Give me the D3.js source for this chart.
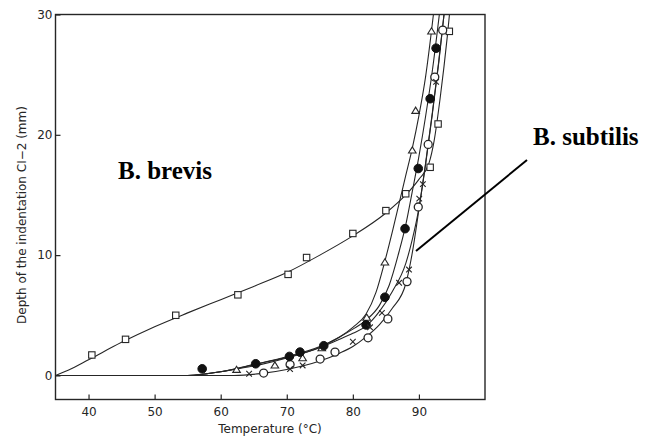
<!DOCTYPE html>
<html><head><meta charset="utf-8">
<script src="https://cdn.jsdelivr.net/npm/d3@7"></script>
<style>html,body{margin:0;padding:0;background:#fff;}svg{display:block;}</style>
</head><body>
<svg id="chart" width="651" height="437"></svg>
<script>
// ---- data ----
const xTicks = [40, 50, 60, 70, 80, 90];
const yTicks = [0, 10, 20, 30];

// markers [temperature, depth]
const squares = [[40.5,1.7],[45.6,3.0],[53.2,5.0],[62.6,6.7],[70.2,8.4],[73.0,9.8],[80.0,11.8],[85.0,13.7],[88.0,15.1],[91.7,17.3],[92.9,20.9],[94.6,28.6]];
const filled = [[57.2,0.55],[65.3,0.97],[70.4,1.58],[72.0,1.94],[75.6,2.47],[82.0,4.2],[84.85,6.5],[87.9,12.2],[89.9,17.2],[91.7,23.0],[92.6,27.2]];
const triangles = [[62.4,0.47],[68.2,0.83],[72.4,1.44],[75.3,2.27],[82.1,4.8],[84.85,9.4],[89.0,18.7],[89.5,22.0],[91.9,28.6]];
const openCircles = [[66.5,0.2],[70.5,0.9],[75.05,1.36],[77.3,1.94],[82.3,3.13],[85.3,4.7],[88.2,7.8],[89.9,14.0],[91.4,19.2],[92.4,24.8],[93.6,28.7]];
const crosses = [[64.3,0.14],[70.5,0.53],[72.4,0.83],[80.0,2.8],[82.6,4.0],[84.4,5.2],[87.0,7.7],[88.5,8.8],[90.05,14.7],[90.6,15.9],[92.6,24.4]];

// fitted curves [temperature, depth]
const brevisCurve = [[35,0],[37,0.45],[40,1.3],[45,2.75],[50,4.05],[55,5.2],[60,6.3],[65,7.4],[70,8.55],[75,10.0],[80,11.6],[85,13.5],[88,15.0],[90,16.3],[91.5,17.6],[92.3,19.5],[93.2,23],[94.3,28.2],[94.8,31]];
const triangleCurve = [[35,0],[55,0],[58,0.15],[62,0.5],[66,0.9],[70,1.45],[75,2.35],[78,3.2],[80,4.0],[82,5.1],[83.5,6.9],[84.8,9.4],[86,12.0],[87,14.3],[88,16.6],[89,18.9],[90,21.6],[91,24.8],[92.3,30.5]];
const filledCurve = [[35,0],[55,0],[60,0.3],[65,0.9],[70,1.55],[75,2.4],[78,3.2],[80,3.85],[82,4.6],[84,5.8],[85.5,7.5],[87,10.3],[88,12.5],[89,15.3],[90,18.2],[91,21.5],[92,25.2],[93.2,30.5]];
const crossCurve = [[35,0],[55,0],[60,0.3],[65,0.9],[70,1.5],[75,2.3],[78,3.0],[80,3.5],[82,4.1],[84,5.3],[86,7.0],[88,9.3],[89,11.3],[90,13.9],[91,17.5],[92,21.6],[93,26.0],[93.9,30.5]];
const openCurve = [[35,0],[62,0],[66,0.15],[70,0.5],[75,1.2],[78,1.85],[80,2.4],[82,3.2],[84,4.2],[86,5.6],[88,7.6],[89,10.2],[90,13.8],[91,17.6],[92,21.7],[93,26.1],[93.9,30.5]];

// ---- drawing ----
const svg = d3.select("#chart");
const L = 55.5, R = 485, T = 14.5, B = 399.5;
const x = d3.scaleLinear().domain([35, 100]).range([L, R]);
const y = d3.scaleLinear().domain([-2, 30]).range([B, T]);
const ink = "#262626";
const tickFont = "DejaVu Sans, Verdana, sans-serif";

svg.append("defs").append("clipPath").attr("id","plot")
  .append("rect").attr("x", L).attr("y", T).attr("width", R - L).attr("height", B - T);

// frame
svg.append("rect").attr("x", L).attr("y", T).attr("width", R - L).attr("height", B - T)
  .attr("fill", "none").attr("stroke", ink).attr("stroke-width", 1.4);

// axes (ticks inward)
const xAxis = d3.axisBottom(x).tickValues(xTicks).tickSizeInner(-5).tickSizeOuter(0).tickPadding(8);
const gx = svg.append("g").attr("transform", `translate(0,${B})`).call(xAxis);
gx.select(".domain").remove();
gx.selectAll("line").attr("stroke", ink).attr("stroke-width", 1.2);
gx.selectAll("text").attr("font-family", tickFont).attr("font-size", 12).attr("fill", ink);

const yAxis = d3.axisLeft(y).tickValues(yTicks).tickSizeInner(-5).tickSizeOuter(0).tickPadding(3);
const gy = svg.append("g").attr("transform", `translate(${L},0)`).call(yAxis);
gy.select(".domain").remove();
gy.selectAll("line").attr("stroke", ink).attr("stroke-width", 1.2);
gy.selectAll("text").attr("font-family", tickFont).attr("font-size", 12).attr("fill", ink);

// axis titles
svg.append("text").attr("x", 270).attr("y", 433).attr("text-anchor", "middle")
  .attr("font-family", tickFont).attr("font-size", 12).attr("fill", ink)
  .text("Temperature (°C)");
svg.append("text").attr("transform", "translate(26,215) rotate(-90)").attr("text-anchor", "middle")
  .attr("font-family", tickFont).attr("font-size", 12).attr("fill", ink)
  .text("Depth of the indentation CI\u22122 (mm)");

// curves
const line = d3.line().x(d => x(d[0])).y(d => y(d[1])).curve(d3.curveMonotoneX);
const curves = svg.append("g").attr("clip-path", "url(#plot)");
[brevisCurve, triangleCurve, filledCurve, crossCurve, openCurve].forEach(c => {
  curves.append("path").datum(c).attr("d", line)
    .attr("fill", "none").attr("stroke", ink).attr("stroke-width", 1.1);
});

// markers
const mk = svg.append("g");
mk.selectAll(".sq").data(squares).enter().append("rect")
  .attr("x", d => x(d[0]) - 3.2).attr("y", d => y(d[1]) - 3.2).attr("width", 6.4).attr("height", 6.4)
  .attr("fill", "#fff").attr("stroke", ink).attr("stroke-width", 1.1);
mk.selectAll(".tri").data(triangles).enter().append("path")
  .attr("d", d => { const cx = x(d[0]), cy = y(d[1]); return `M${cx},${cy-3.6}L${cx+3.8},${cy+2.6}L${cx-3.8},${cy+2.6}Z`; })
  .attr("fill", "#fff").attr("stroke", ink).attr("stroke-width", 1.1);
mk.selectAll(".oc").data(openCircles).enter().append("circle")
  .attr("cx", d => x(d[0])).attr("cy", d => y(d[1])).attr("r", 4)
  .attr("fill", "#fff").attr("stroke", ink).attr("stroke-width", 1.3);
mk.selectAll(".fc").data(filled).enter().append("circle")
  .attr("cx", d => x(d[0])).attr("cy", d => y(d[1])).attr("r", 4.3)
  .attr("fill", "#111").attr("stroke", "#111");
mk.selectAll(".cr").data(crosses).enter().append("path")
  .attr("d", d => { const cx = x(d[0]), cy = y(d[1]), s = 2.8; return `M${cx-s},${cy-s}L${cx+s},${cy+s}M${cx-s},${cy+s}L${cx+s},${cy-s}`; })
  .attr("fill", "none").attr("stroke", ink).attr("stroke-width", 1.1);

// annotations
svg.append("text").attr("x", 118).attr("y", 179)
  .attr("font-family", "Liberation Serif, Times New Roman, serif").attr("font-weight", "bold").attr("font-size", 25)
  .attr("fill", "#000").text("B. brevis");
svg.append("text").attr("x", 533).attr("y", 145)
  .attr("font-family", "Liberation Serif, Times New Roman, serif").attr("font-weight", "bold").attr("font-size", 25)
  .attr("fill", "#000").text("B. subtilis");
svg.append("line").attr("x1", 527).attr("y1", 160).attr("x2", 416).attr("y2", 251)
  .attr("stroke", "#000").attr("stroke-width", 2);
</script>
</body></html>
